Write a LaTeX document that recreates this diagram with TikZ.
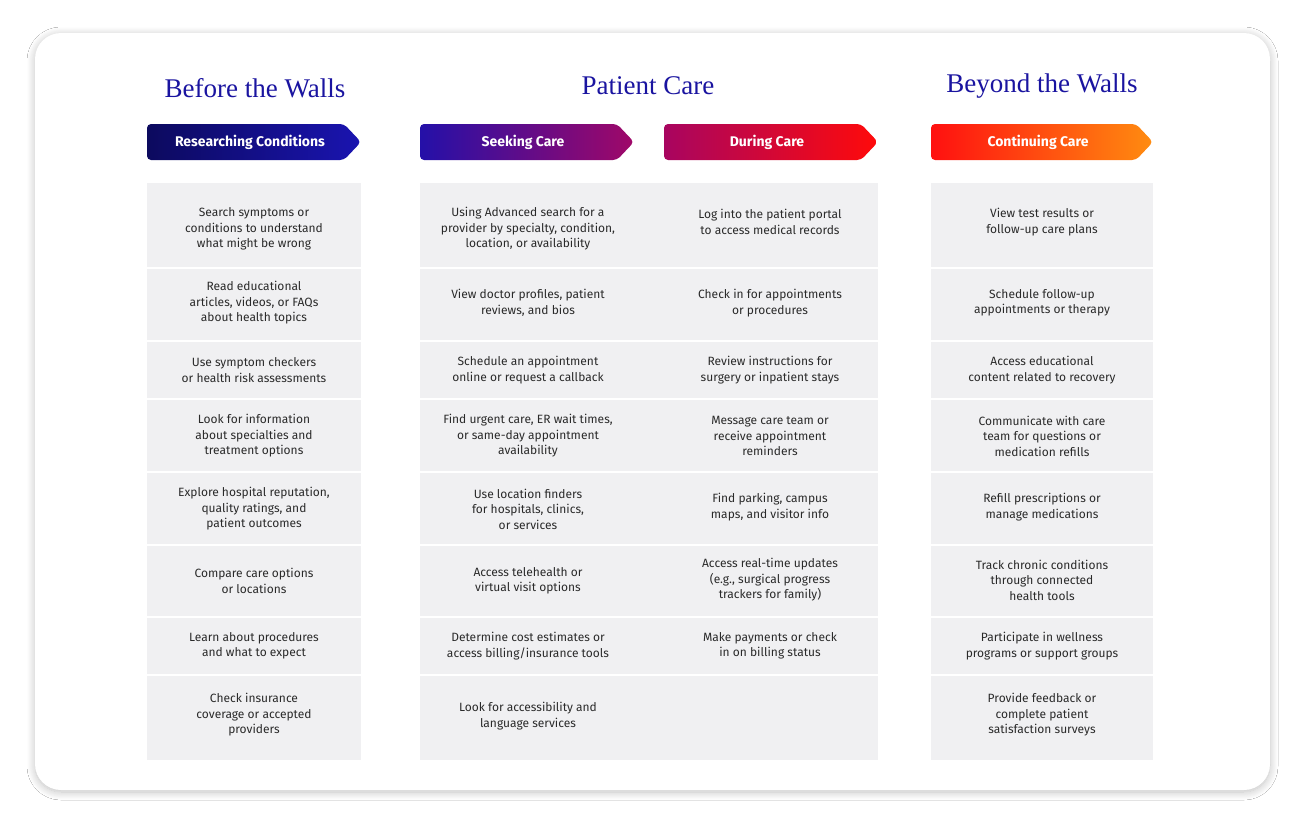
\documentclass[tikz,border=0pt]{standalone}
\usepackage{fontspec}
\setmainfont{Fira Sans}
\newfontfamily\titlefont{Liberation Serif}
\usetikzlibrary{shadows.blur}
\definecolor{cellg}{HTML}{F0F0F2}
\definecolor{ttl}{HTML}{1A14A0}
\definecolor{txt}{HTML}{2A2A2A}
\tikzset{
  cell/.style={font=\fontsize{12}{15.5}\selectfont, text=txt, align=center},
  ttlnode/.style={font=\titlefont\fontsize{27}{30}\selectfont, text=ttl},
  bannertext/.style={font=\bfseries\fontsize{14}{16}\selectfont, text=white},
}
\begin{document}
\begin{tikzpicture}[x=1pt,y=-1pt]
\useasboundingbox (0,0) rectangle (1300,819);
\fill[white] (0,0) rectangle (1300,819);
\fill[white, rounded corners=26pt, blur shadow={shadow blur steps=12, shadow xshift=0pt, shadow yshift=-2pt, shadow opacity=25, shadow blur radius=8pt}] (35,33) rectangle (1270,790);
% titles
\node[ttlnode] (t1) at (255,88) {Before the Walls};
\node[ttlnode] (t2) at (648,86) {Patient Care};
\node[ttlnode] (t3) at (1042,86) {Beyond the Walls};
% banners
\newcommand\banner[6]{%
  \shade[left color=#4, right color=#5, rounded corners=4pt] (#1,124) -- (#2-17,124) -- (#2,142) -- (#2-17,160) -- (#1,160) -- cycle;
  \node[bannertext] (#6) at ({(#1+#2-8)/2},142) {#3};}
\definecolor{a1}{HTML}{0C0A5E}\definecolor{a2}{HTML}{1A14B0}
\definecolor{b1}{HTML}{2410A8}\definecolor{b2}{HTML}{A00868}
\definecolor{c1}{HTML}{A80560}\definecolor{c2}{HTML}{FF0A0A}
\definecolor{d1}{HTML}{FF1010}\definecolor{d2}{HTML}{FF8C10}
\banner{147}{361}{Researching Conditions}{a1}{a2}{h1}
\banner{420}{634}{Seeking Care}{b1}{b2}{h2}
\banner{664}{878}{During Care}{c1}{c2}{h3}
\banner{931}{1153}{Continuing Care}{d1}{d2}{h4}
% cells
\def\rows{183/267,269/340,342/398,400/471,473/544,546/616,618/674,676/760}
\foreach \a/\b in \rows {
  \fill[cellg] (147,\a) rectangle (361,\b);
  \fill[cellg] (420,\a) rectangle (878,\b);
  \fill[cellg] (931,\a) rectangle (1153,\b);
}
% column 1
\node[cell] (c11) at (254,229) {Search symptoms or\\conditions to understand\\what might be wrong};
\node[cell] (c12) at (254,303) {Read educational\\articles, videos, or FAQs\\about health topics};
\node[cell] (c13) at (254,370) {Use symptom checkers\\or health risk assessments};
\node[cell] (c14) at (254,436) {Look for information\\about specialties and\\treatment options};
\node[cell] (c15) at (254,509) {Explore hospital reputation,\\quality ratings, and\\patient outcomes};
\node[cell] (c16) at (254,581) {Compare care options\\or locations};
\node[cell] (c17) at (254,646) {Learn about procedures\\and what to expect};
\node[cell] (c18) at (254,715) {Check insurance\\coverage or accepted\\providers};
% column 2
\node[cell] (c21) at (528,229) {Using Advanced search for a\\provider by specialty, condition,\\location, or availability};
\node[cell] (c22) at (528,303) {View doctor profiles, patient\\reviews, and bios};
\node[cell] (c23) at (528,370) {Schedule an appointment\\online or request a callback};
\node[cell] (c24) at (528,436) {Find urgent care, ER wait times,\\or same-day appointment\\availability};
\node[cell] (c25) at (528,509) {Use location finders\\for hospitals, clinics,\\or services};
\node[cell] (c26) at (528,581) {Access telehealth or\\virtual visit options};
\node[cell] (c27) at (528,646) {Determine cost estimates or\\access billing/insurance tools};
\node[cell] (c28) at (528,716) {Look for accessibility and\\language services};
% column 3
\node[cell] (c31) at (770,222) {Log into the patient portal\\to access medical records};
\node[cell] (c32) at (770,303) {Check in for appointments\\or procedures};
\node[cell] (c33) at (770,370) {Review instructions for\\surgery or inpatient stays};
\node[cell] (c34) at (770,436) {Message care team or\\receive appointment\\reminders};
\node[cell] (c35) at (770,507) {Find parking, campus\\maps, and visitor info};
\node[cell] (c36) at (770,580) {Access real-time updates\\(e.g., surgical progress\\trackers for family)};
\node[cell] (c37) at (770,646) {Make payments or check\\in on billing status};
% column 4
\node[cell] (c41) at (1042,222) {View test results or\\follow-up care plans};
\node[cell] (c42) at (1042,303) {Schedule follow-up\\appointments or therapy};
\node[cell] (c43) at (1042,370) {Access educational\\content related to recovery};
\node[cell] (c44) at (1042,436) {Communicate with care\\team for questions or\\medication refills};
\node[cell] (c45) at (1042,507) {Refill prescriptions or\\manage medications};
\node[cell] (c46) at (1042,580) {Track chronic conditions\\through connected\\health tools};
\node[cell] (c47) at (1042,646) {Participate in wellness\\programs or support groups};
\node[cell] (c48) at (1042,715) {Provide feedback or\\complete patient\\satisfaction surveys};
\end{tikzpicture}
\end{document}
